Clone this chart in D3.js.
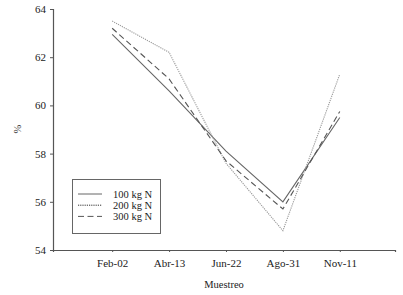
<!DOCTYPE html>
<html><head><meta charset="utf-8">
<script src="https://cdn.jsdelivr.net/npm/d3@7"></script>
<style>body{margin:0;background:#fff;} svg{display:block;}</style>
</head><body>
<script>
const categories = ["Feb-02","Abr-13","Jun-22","Ago-31","Nov-11"];
const s100 = [62.95, 60.6, 58.1, 56.0, 59.5];
const s200 = [63.5, 62.2, 57.6, 54.8, 61.3];
const s300 = [63.2, 61.1, 57.7, 55.7, 59.75];
const seriesNames = ["100 kg N","200 kg N","300 kg N"];
const yTicks = [54,56,58,60,62,64];

const W=403,H=295;
const svg=d3.select("body").append("svg").attr("width",W).attr("height",H);
const font="'Liberation Serif','Times New Roman',serif";
const x=d3.scaleLinear().domain([-1.04,4.97]).range([53,395]);
const y=d3.scaleLinear().domain([54,64]).range([250,9]);
const axisColor="#555";

const gx=svg.append("g").attr("transform","translate(0,250)")
  .call(d3.axisBottom(x).tickValues(d3.range(categories.length)).tickFormat(i=>categories[i]).tickSizeOuter(0).tickSize(2).tickPadding(7));
const gy=svg.append("g").attr("transform","translate(53,0)")
  .call(d3.axisLeft(y).tickValues(yTicks).tickSizeOuter(0).tickSize(3).tickPadding(4));
[gx,gy].forEach(g=>{
  g.select(".domain").attr("stroke",axisColor).attr("stroke-width",1.2);
  g.selectAll(".tick line").attr("stroke",axisColor);
  g.selectAll("text").attr("font-family",font).attr("font-size",11).attr("fill","#222");
});

svg.append("text").attr("x",224).attr("y",288).attr("text-anchor","middle")
  .attr("font-family",font).attr("font-size",10.5).attr("fill","#222").text("Muestreo");
svg.append("text").attr("transform","translate(21,129) rotate(-90)").attr("text-anchor","middle")
  .attr("font-family",font).attr("font-size",10.5).attr("fill","#333").text("%");

const styles=[
  {data:s100,stroke:"#666",dash:null,w:1.1},
  {data:s200,stroke:"#999",dash:"1.2,1",w:1.1},
  {data:s300,stroke:"#555",dash:"6,3.5",w:1.1}
];
const line=d3.line().x((d,i)=>x(i)).y(d=>y(d));
styles.forEach(s=>{
  svg.append("path").datum(s.data).attr("d",line).attr("fill","none")
    .attr("stroke",s.stroke).attr("stroke-width",s.w).attr("stroke-dasharray",s.dash);
});

// legend
const lg=svg.append("g");
lg.append("rect").attr("x",72.5).attr("y",179.5).attr("width",88).attr("height",54)
  .attr("fill","#fff").attr("stroke","#666").attr("stroke-width",1);
styles.forEach((s,i)=>{
  const yy=194+i*11.2;
  lg.append("line").attr("x1",78).attr("x2",102).attr("y1",yy).attr("y2",yy)
    .attr("stroke",i===1?"#333":s.stroke).attr("stroke-width",1).attr("stroke-dasharray",s.dash);
  lg.append("text").attr("x",113).attr("y",yy+3.5).attr("font-family",font).attr("font-size",10.5)
    .attr("fill","#222").text(seriesNames[i]);
});
</script>
</body></html>
